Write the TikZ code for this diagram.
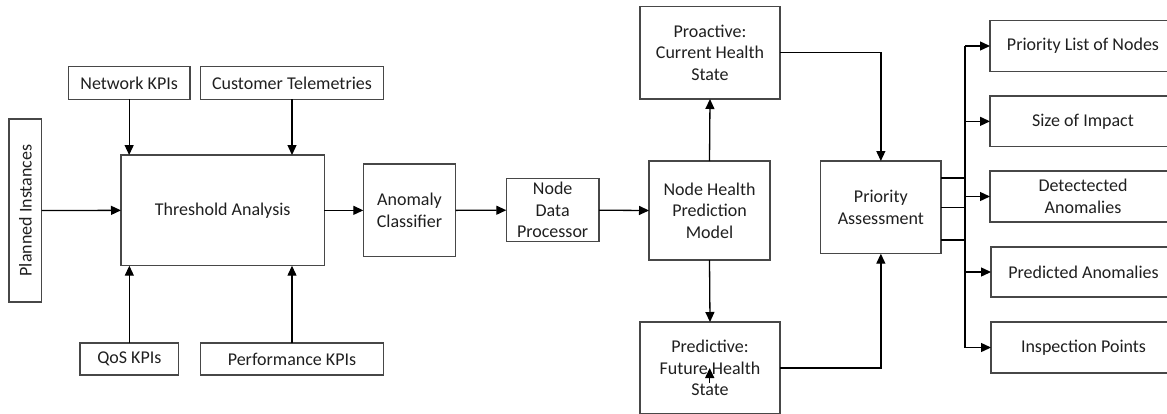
\documentclass[tikz,border=0pt]{standalone}
\usepackage{fontspec}
\setmainfont{Carlito}
\usetikzlibrary{arrows.meta,calc}
\newcommand\bxnode[7][]{%
  \node[box,minimum width={(#5-#3)*1pt},minimum height={(#6-#4)*1pt},#1] (#2) at ({(#3+#5)/2},{-(#4+#6)/2}) {#7};}
\tikzset{
  box/.style={draw=black!72,line width=1.4pt,inner sep=0pt,outer sep=0pt,align=center,
    font=\fontsize{18}{21.5}\selectfont,text=black!88},
  arr/.style={draw=black,line width=1.3pt,-{Triangle[length=10pt,width=9pt]}},
  ln/.style={draw=black,line width=1.3pt}
}
\begin{document}
\begin{tikzpicture}[x=1pt,y=1pt]
\clip (0,0) rectangle (1167,-413);
% left inputs
\bxnode[rotate=90,minimum width=183pt,minimum height=32.7pt]{pi}{9}{119}{41.7}{302}{Planned Instances}
\bxnode{nk}{68.3}{66.7}{190}{99.3}{Network KPIs}
\bxnode{ct}{200.7}{66.7}{383.3}{99.3}{Customer Telemetries}
\bxnode{ta}{121}{155}{324.3}{265.7}{Threshold Analysis}
\bxnode{qos}{80}{343}{178.7}{375}{QoS KPIs}
\bxnode{pk}{200.3}{343}{383.7}{375}{Performance KPIs}
\bxnode{ac}{363.3}{164}{455.7}{256.7}{Anomaly\\Classifier}
\bxnode{ndp}{506.3}{178.7}{599}{241.7}{Node\\Data\\Processor}
\bxnode{nhpm}{649}{161}{770}{260}{Node Health\\Prediction\\Model}
\bxnode{pro}{640}{6.3}{780}{99}{Proactive:\\Current Health\\State}
\bxnode{pre}{640}{322}{780}{414}{Predictive:\\Future Health\\State}
\bxnode{pa}{820.7}{161}{941}{253.7}{Priority\\Assessment}
% outputs
\bxnode{o1}{990}{20.7}{1176}{71.3}{Priority List of Nodes}
\bxnode{o2}{990}{96}{1176}{146.7}{Size of Impact}
\bxnode{o3}{990}{171}{1176}{222}{Detectected\\Anomalies}
\bxnode{o4}{991}{247}{1176}{297}{Predicted Anomalies}
\bxnode{o5}{991}{322}{1176}{373}{Inspection Points}
% connectors
\draw[arr] (nk.south) -- (nk.south |- ta.north);
\draw[arr] (ct.south) -- (ct.south |- ta.north);
\draw[arr] (qos.north) -- (qos.north |- ta.south);
\draw[arr] (pk.north) -- (pk.north |- ta.south);
\draw[arr] (pi.south) -- (ta.west);
\draw[arr] (ta.east) -- (ac.west);
\draw[arr] (ac.east) -- (ndp.west);
\draw[arr] (ndp.east) -- (nhpm.west);
\draw[arr] (nhpm.north) -- (pro.south);
\draw[arr] (nhpm.south) -- (pre.north);
\draw[arr] (pro.east) -| (pa.north);
\draw[arr] (pre.east) -| (pa.south);
\coordinate (tr) at (965,0);
\coordinate (pa1) at (pa.east |- 0,-178);
\coordinate (pa3) at (pa.east |- 0,-240);
\draw[ln] (pa1) -- (tr |- pa1);
\draw[ln] (pa.east) -- (tr |- pa.east);
\draw[ln] (pa3) -- (tr |- pa3);
\draw[ln] (tr |- o1.west) -- (tr |- o5.west);
\foreach \o in {o1,o2,o3,o4,o5}{\draw[arr] (tr |- \o.west) -- (\o.west);}
% small stray arrow inside the predictive box
\coordinate (sa) at (709.7,-383);
\draw[arr] (sa) -- (709.7,-368);
\end{tikzpicture}
\end{document}
